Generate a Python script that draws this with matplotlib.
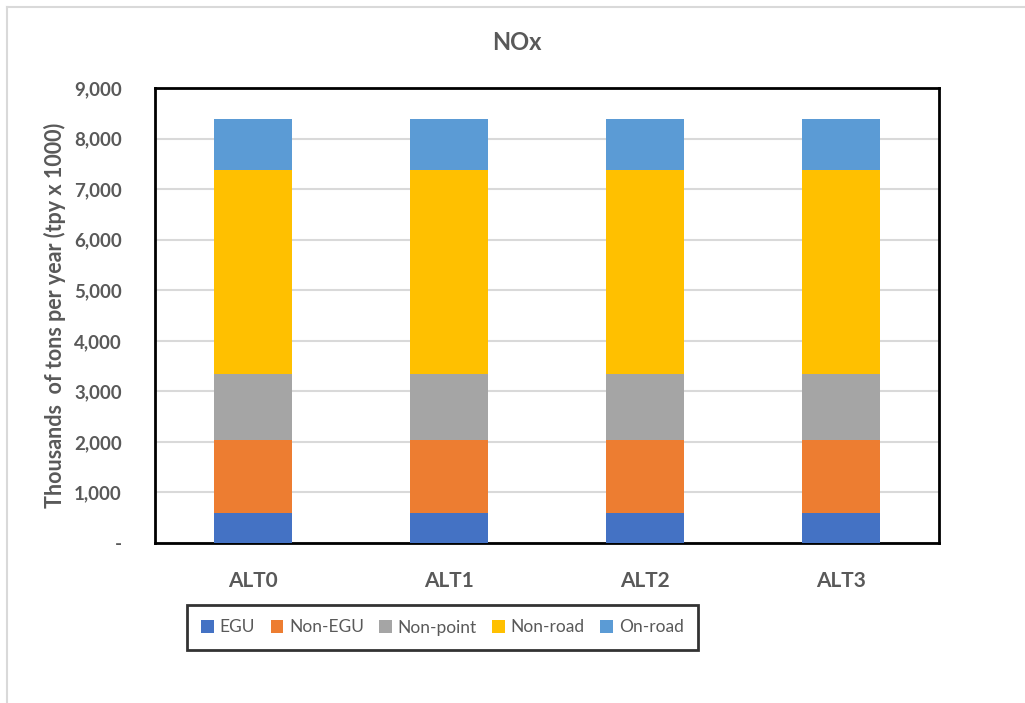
import numpy as np
import matplotlib.pyplot as plt
from matplotlib.ticker import FuncFormatter
from matplotlib.lines import Line2D

plt.rcParams['font.family'] = ['Lato', 'DejaVu Sans']

scenarios = ['ALT0', 'ALT1', 'ALT2', 'ALT3']
sectors = ['EGU', 'Non-EGU', 'Non-point', 'Non-road', 'On-road']
colors = ['#4472c4', '#ed7d31', '#a5a5a5', '#ffc000', '#5b9bd5']

# thousand tons per year (same for all scenarios)
egu = [590, 590, 590, 590]
non_egu = [1450, 1450, 1450, 1450]
non_point = [1300, 1300, 1300, 1300]
non_road = [4040, 4040, 4040, 4040]
on_road = [1010, 1010, 1010, 1010]
series = [egu, non_egu, non_point, non_road, on_road]

txt = '#595959'

fig = plt.figure(figsize=(10.25, 7.03), dpi=100)
ax = fig.add_axes([155 / 1025, 1 - 543 / 703, 784 / 1025, 455 / 703])

x = np.arange(len(scenarios))
bottom = np.zeros(len(scenarios))
handles = []
for name, vals, c in zip(sectors, series, colors):
    b = ax.bar(x, vals, 0.403, bottom=bottom, color=c, label=name, zorder=3)
    bottom += np.array(vals)
    handles.append(b)

ax.set_xlim(-0.5, 3.5)
ax.set_ylim(0, 9000)
ax.set_yticks(np.arange(0, 9001, 1000))
ax.yaxis.set_major_formatter(FuncFormatter(lambda v, p: '-' if v == 0 else f'{v:,.0f}'))
ax.grid(axis='y', color='#d9d9d9', lw=1.5, zorder=0)
ax.set_xticks(x)
ax.set_xticklabels(scenarios, fontsize=15, fontweight='bold', color=txt)
ax.tick_params(axis='y', labelsize=13.5, labelcolor=txt, length=0, pad=24)
ax.tick_params(axis='x', length=0, pad=20)
for lab in ax.get_yticklabels():
    lab.set_fontweight('bold')
for s in ax.spines.values():
    s.set_color('black')
    s.set_linewidth(2)

ax.set_ylabel('Thousands  of tons per year (tpy x 1000)', fontsize=15.5,
              fontweight='bold', color=txt, labelpad=6)
fig.text(517 / 1025, 1 - 43 / 703, 'NOx', ha='center', va='center',
         fontsize=17, fontweight='bold', color=txt)

leg = fig.legend(handles=handles, loc='center', ncol=5,
                 bbox_to_anchor=(442.5 / 1025, 1 - 627.5 / 703),
                 frameon=True, fancybox=False, fontsize=12.5,
                 handlelength=0.7, handleheight=0.7, handletextpad=0.35,
                 columnspacing=0.9, borderpad=0.85, borderaxespad=0,
                 labelcolor=txt)
leg.get_frame().set_edgecolor('black')
leg.get_frame().set_linewidth(2)

# outer chart border (left and top visible)
fig.add_artist(Line2D([7 / 1025, 7 / 1025], [0, 1 - 7 / 703], color='#d9d9d9', lw=1.5))
fig.add_artist(Line2D([7 / 1025, 1], [1 - 7 / 703, 1 - 7 / 703], color='#d9d9d9', lw=1.5))

fig.savefig('out.png', dpi=100)
